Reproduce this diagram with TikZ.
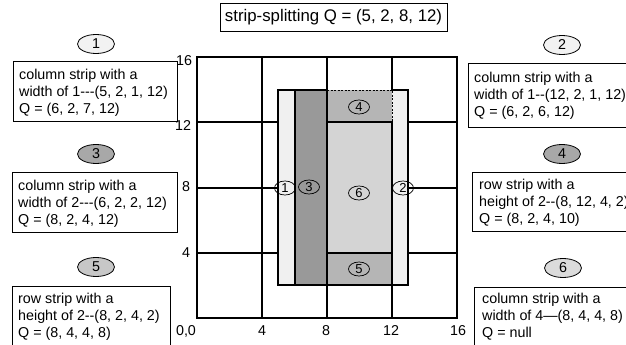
\documentclass[tikz,border=0pt]{standalone}
\usepackage{fontspec}
\setmainfont{Liberation Sans}[Ligatures=TeXOff]
\usetikzlibrary{shapes.geometric}
\definecolor{lite}{gray}{0.94}
\definecolor{darkstrip}{gray}{0.60}
\definecolor{midstrip}{gray}{0.71}
\definecolor{palestrip}{gray}{0.83}
\definecolor{ellA}{gray}{0.95}
\definecolor{ellB}{gray}{0.66}
\definecolor{ellC}{gray}{0.78}
\definecolor{ellD}{gray}{0.86}
\tikzset{
  txt/.style={font=\fontsize{14.3}{17}\selectfont},
  boxshape/.style={draw, line width=0.8pt, anchor=north west, inner sep=0pt},
  boxtext/.style={anchor=west, align=left, inner sep=0pt, txt},
  bigell/.style={ellipse, draw, line width=0.8pt, minimum width=37pt,
    minimum height=19pt, inner sep=0pt, txt},
  smallell/.style={ellipse, draw, line width=0.7pt, minimum width=21pt,
    minimum height=14pt, inner sep=0pt, font=\fontsize{13}{13}\selectfont},
  gridline/.style={line width=2pt},
  axlabel/.style={txt, inner sep=0pt},
}
\begin{document}
\begin{tikzpicture}[x=1pt,y=-1pt]
\useasboundingbox (0,0) rectangle (626,345);
\fill[white] (0,0) rectangle (626,345);

% title
\node[draw, line width=0.8pt, minimum width=227pt, minimum height=28pt,
  inner sep=0pt, font=\fontsize{16.8}{18}\selectfont] (title) at (333.5,17)
  {strip-splitting Q = (5, 2, 8, 12)};

% grid and strips
\begin{scope}[shift={(197pt,-318pt)}, x=16.25pt, y=16.3pt]
  \fill[lite] (5,2) rectangle (6,14);
  \fill[darkstrip] (6,2) rectangle (8,14);
  \fill[midstrip] (8,12) rectangle (12,14);
  \fill[palestrip] (8,4) rectangle (12,12);
  \fill[midstrip] (8,2) rectangle (12,4);
  \fill[lite] (12,2) rectangle (13,14);
  \draw[line width=0.6pt, dash pattern=on 2pt off 1.5pt]
    (8,14) -- (12,14) -- (12,12);
  \draw[gridline] (0,0) rectangle (16,16);
  \draw[gridline] (4,0) -- (4,16);
  \draw[gridline] (8,0) -- (8,2) (8,14) -- (8,16) (12,0) -- (12,2) (12,14) -- (12,16);
  \draw[gridline] (0,4) -- (5,4) (13,4) -- (16,4)
                  (0,8) -- (5,8) (13,8) -- (16,8)
                  (0,12) -- (5,12) (13,12) -- (16,12);
  \draw[gridline] (5,2) rectangle (6,14);
  \draw[gridline] (6,2) rectangle (8,14);
  \draw[gridline] (8,4) rectangle (12,12);
  \draw[gridline] (8,2) rectangle (12,4);
  \draw[gridline] (12,14) -- (13,14) -- (13,2) -- (12,2);
\end{scope}

% axis labels
\node[axlabel] (y16) at (184,61) {16};
\node[axlabel] (y12) at (183,126) {12};
\node[axlabel] (y8) at (186,187) {8};
\node[axlabel] (y4) at (186,253) {4};
\node[axlabel] (o) at (186,331) {0,0};
\node[axlabel] (x4) at (262,331) {4};
\node[axlabel] (x8) at (326,331) {8};
\node[axlabel] (x12) at (391,331) {12};
\node[axlabel] (x16) at (458,331) {16};

% small ellipses in the plan
\node[smallell] (s1) at (285,188) {1};
\node[smallell] (s3) at (309,187) {3};
\node[smallell] (s6) at (359,193) {6};
\node[smallell] (s2) at (403,188) {2};
\node[smallell] (s4) at (359,107) {4};
\node[smallell] (s5) at (359,269) {5};

% left column
\node[bigell, fill=ellA] (e1) at (96,44) {1};
\node[boxshape, minimum width=164pt, minimum height=60pt] (b1) at (13,61) {};
\node[boxtext] (t1) at ([xshift=6pt,yshift=-1pt]b1.west)
  {column strip with a\\width of 1---(5, 2, 1, 12)\\Q = (6, 2, 7, 12)};
\node[bigell, fill=ellB] (e3) at (96,154) {3};
\node[boxshape, minimum width=165pt, minimum height=60pt] (b3) at (12,172) {};
\node[boxtext] (t3) at ([xshift=6pt,yshift=-1pt]b3.west)
  {column strip with a\\width of 2---(6, 2, 2, 12)\\Q = (8, 2, 4, 12)};
\node[bigell, fill=ellC] (e5) at (96,267) {5};
\node[boxshape, minimum width=158pt, minimum height=66pt] (b5) at (12,286) {};
\node[boxtext] (t5) at (18,317)
  {row strip with a\\height of 2--(8, 2, 4, 2)\\Q = (8, 4, 4, 8)};

% right column
\node[bigell, fill=ellA] (e2) at (562,45) {2};
\node[boxshape, minimum width=180pt, minimum height=64pt] (b2) at (468,63) {};
\node[boxtext] (t2) at (474,96)
  {column strip with a\\width of 1--(12, 2, 1, 12)\\Q = (6, 2, 6, 12)};
\node[bigell, fill=ellB] (e4) at (562,154) {4};
\node[boxshape, minimum width=180pt, minimum height=59pt] (b4) at (472,172) {};
\node[boxtext] (t4) at (479,203)
  {row strip with a\\height of 2--(8, 12, 4, 2)\\Q = (8, 2, 4, 10)};
\node[bigell, fill=ellD] (e6) at (563,268) {6};
\node[boxshape, minimum width=180pt, minimum height=66pt] (b6) at (474,287) {};
\node[boxtext] (t6) at (482,317)
  {column strip with a\\width of 4—(8, 4, 4, 8)\\Q = null};
\end{tikzpicture}
\end{document}
